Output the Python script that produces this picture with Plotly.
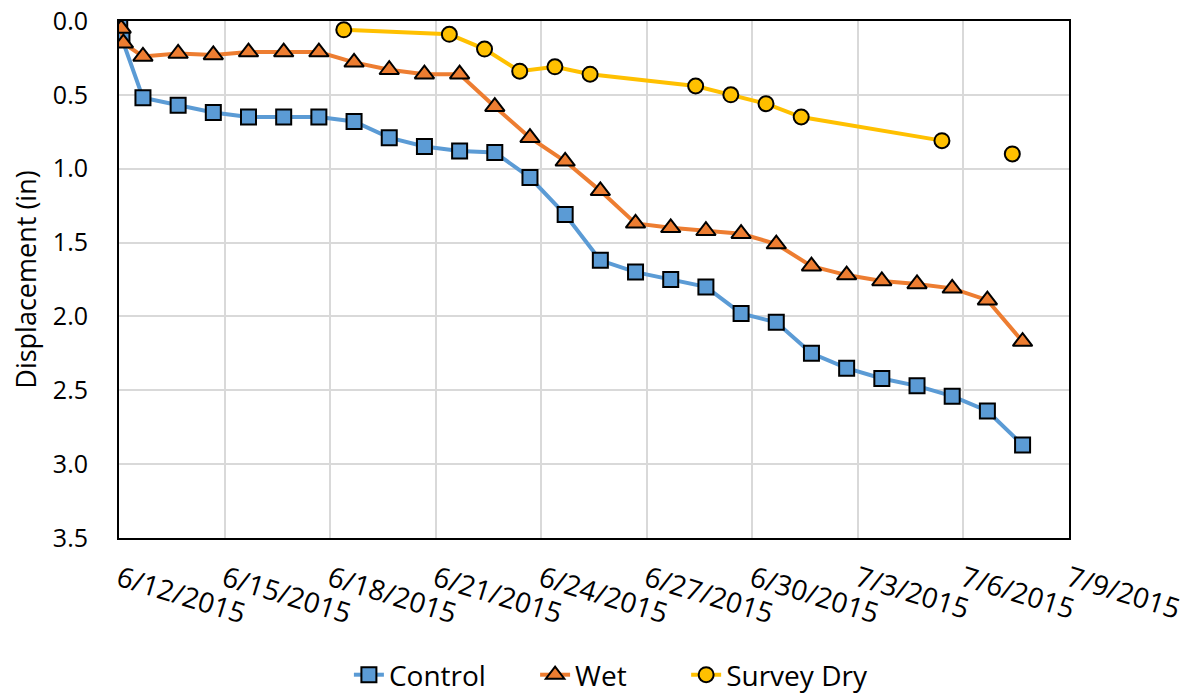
import plotly.graph_objects as go

# Control readings (in), one per day plus two initial readings
control_dates = [
    "2015-06-12 00:30", "2015-06-12 02:00", "2015-06-12 16:20",
    "2015-06-13 16:20", "2015-06-14 16:20", "2015-06-15 16:20",
    "2015-06-16 16:20", "2015-06-17 16:20", "2015-06-18 16:20",
    "2015-06-19 16:20", "2015-06-20 16:20", "2015-06-21 16:20",
    "2015-06-22 16:20", "2015-06-23 16:20", "2015-06-24 16:20",
    "2015-06-25 16:20", "2015-06-26 16:20", "2015-06-27 16:20",
    "2015-06-28 16:20", "2015-06-29 16:20", "2015-06-30 16:20",
    "2015-07-01 16:20", "2015-07-02 16:20", "2015-07-03 16:20",
    "2015-07-04 16:20", "2015-07-05 16:20", "2015-07-06 16:20",
    "2015-07-07 16:20",
]
control_disp = [
    0.00, 0.12, 0.52, 0.57, 0.62, 0.65, 0.65, 0.65, 0.68, 0.79,
    0.85, 0.88, 0.89, 1.06, 1.31, 1.62, 1.70, 1.75, 1.80, 1.98,
    2.04, 2.25, 2.35, 2.42, 2.47, 2.54, 2.64, 2.87,
]

# Wet readings (in)
wet_dates = [
    "2015-06-12 01:30", "2015-06-12 03:00", "2015-06-12 16:20",
    "2015-06-13 16:20", "2015-06-14 16:20", "2015-06-15 16:20",
    "2015-06-16 16:20", "2015-06-17 16:20", "2015-06-18 16:20",
    "2015-06-19 16:20", "2015-06-20 16:20", "2015-06-21 16:20",
    "2015-06-22 16:20", "2015-06-23 16:20", "2015-06-24 16:20",
    "2015-06-25 16:20", "2015-06-26 16:20", "2015-06-27 16:20",
    "2015-06-28 16:20", "2015-06-29 16:20", "2015-06-30 16:20",
    "2015-07-01 16:20", "2015-07-02 16:20", "2015-07-03 16:20",
    "2015-07-04 16:20", "2015-07-05 16:20", "2015-07-06 16:20",
    "2015-07-07 16:20",
]
wet_disp = [
    0.05, 0.15, 0.24, 0.22, 0.23, 0.21, 0.21, 0.21, 0.28, 0.33,
    0.36, 0.36, 0.58, 0.79, 0.95, 1.15, 1.37, 1.40, 1.42, 1.44,
    1.51, 1.66, 1.72, 1.76, 1.78, 1.81, 1.89, 2.17,
]

# Survey (dry) readings (in); None = no survey that day
dry_dates = [
    "2015-06-18 09:20", "2015-06-21 09:20", "2015-06-22 09:20",
    "2015-06-23 09:20", "2015-06-24 09:20", "2015-06-25 09:20",
    "2015-06-28 09:20", "2015-06-29 09:20", "2015-06-30 09:20",
    "2015-07-01 09:20", "2015-07-05 09:20", "2015-07-06 09:20",
    "2015-07-07 09:20",
]
dry_disp = [0.06, 0.09, 0.19, 0.34, 0.31, 0.36, 0.44, 0.50, 0.56,
            0.65, 0.81, None, 0.90]

FONT = "Open Sans, Lato, sans-serif"
TXT = "#000000"
LEG_Y = -0.265

fig = go.Figure()
fig.add_trace(go.Scatter(
    x=control_dates, y=control_disp, name="Control", mode="lines+markers",
    legend="legend",
    line=dict(color="#5B9BD5", width=4),
    marker=dict(symbol="square", size=15, color="#5B9BD5",
                line=dict(color="#000000", width=2)),
))
fig.add_trace(go.Scatter(
    x=wet_dates, y=wet_disp, name="Wet", mode="lines+markers",
    legend="legend2",
    line=dict(color="#ED7D31", width=4),
    marker=dict(symbol="triangle-up", size=17, color="#ED7D31",
                line=dict(color="#000000", width=2)),
))
fig.add_trace(go.Scatter(
    x=dry_dates, y=dry_disp, name="Survey Dry", mode="lines+markers",
    legend="legend3", connectgaps=False,
    line=dict(color="#FFC000", width=4),
    marker=dict(symbol="circle", size=15, color="#FFC000",
                line=dict(color="#000000", width=2)),
))

leg_common = dict(orientation="h", xanchor="left", y=LEG_Y,
                  yanchor="middle", font=dict(size=28, color=TXT),
                  bgcolor="rgba(0,0,0,0)")

fig.update_layout(
    width=1198, height=696,
    margin=dict(l=119, r=129, t=21, b=158, autoexpand=False),
    paper_bgcolor="white", plot_bgcolor="white",
    font=dict(family=FONT, size=24, color=TXT),
    showlegend=True,
    legend=dict(x=0.242, **leg_common),
    legend2=dict(x=0.438, **leg_common),
    legend3=dict(x=0.597, **leg_common),
)
fig.update_xaxes(
    type="date",
    range=["2015-06-12", "2015-07-09"],
    tick0="2015-06-12", dtick=3 * 86400000,
    tickformat="%-m/%-d/%Y", tickangle=17,
    tickfont=dict(size=28, color=TXT),
    ticks="outside", ticklen=12, tickcolor="rgba(0,0,0,0)",
    automargin=False,
    showgrid=True, gridcolor="#d9d9d9", gridwidth=1.5,
    showline=True, linecolor="#000000", linewidth=2, mirror=True,
    zeroline=False,
)
fig.update_yaxes(
    range=[3.5, 0], dtick=0.5, tick0=0, tickformat=".1f",
    tickfont=dict(size=25, color=TXT),
    ticks="outside", ticklen=24, tickcolor="rgba(0,0,0,0)",
    automargin=False,
    title=dict(text="Displacement (in)", font=dict(size=27, color=TXT),
               standoff=8),
    showgrid=True, gridcolor="#d9d9d9", gridwidth=1.5,
    showline=True, linecolor="#000000", linewidth=2, mirror=True,
    zeroline=False,
)

fig.write_html("out.html")
